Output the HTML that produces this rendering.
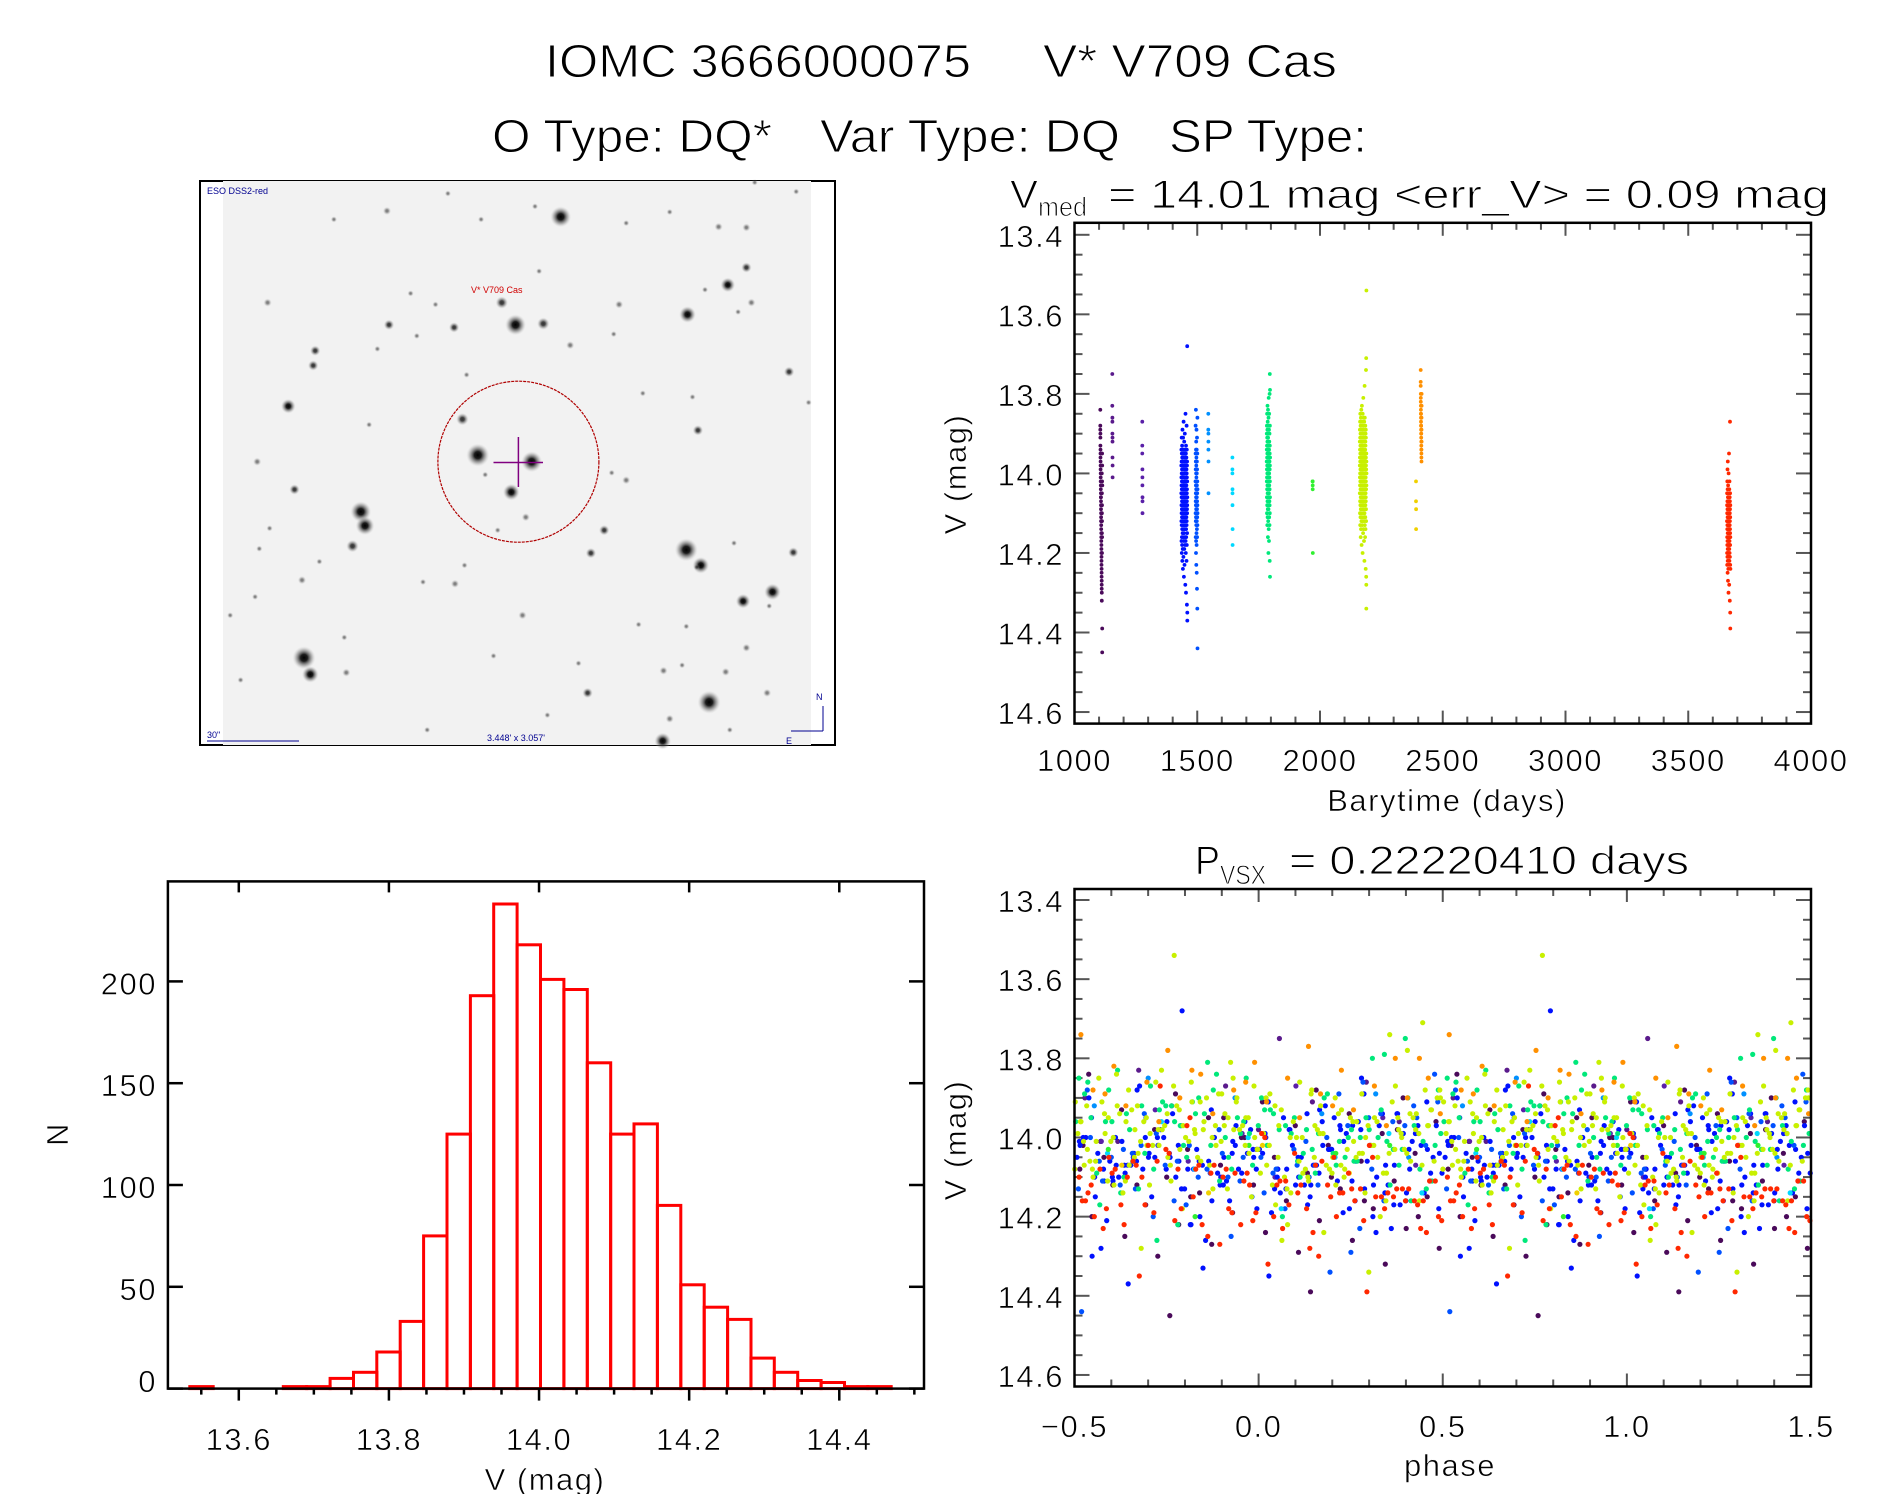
<!DOCTYPE html>
<html><head><meta charset="utf-8"><title>IOMC 3666000075 V* V709 Cas</title>
<style>
html,body{margin:0;padding:0;background:#fff;}
svg{display:block;font-family:"Liberation Sans",sans-serif;}
.thin{stroke:#fff;stroke-width:1;}
</style></head>
<body>
<svg id="fig" width="1889" height="1494" viewBox="0 0 1889 1494" xmlns="http://www.w3.org/2000/svg">
<defs>
<radialGradient id="starg"><stop offset="0" stop-color="#000" stop-opacity="1"/><stop offset="0.3" stop-color="#111" stop-opacity="0.95"/><stop offset="0.7" stop-color="#666" stop-opacity="0.4"/><stop offset="1" stop-color="#ccc" stop-opacity="0"/></radialGradient>
</defs>
<g font-size="46" fill="#000" class="thin">
<text x="545" y="77" textLength="426" lengthAdjust="spacingAndGlyphs">IOMC 3666000075</text>
<text x="1043" y="77" textLength="294" lengthAdjust="spacingAndGlyphs">V* V709 Cas</text>
<text x="492" y="152" textLength="280" lengthAdjust="spacingAndGlyphs">O Type: DQ*</text>
<text x="820" y="152" textLength="300" lengthAdjust="spacingAndGlyphs">Var Type: DQ</text>
<text x="1169" y="152" textLength="198" lengthAdjust="spacingAndGlyphs">SP Type:</text>
</g>
<g font-size="40" class="thin">
<text x="1010" y="208" textLength="28" lengthAdjust="spacingAndGlyphs">V</text>
<text x="1038" y="216" font-size="27" textLength="49" lengthAdjust="spacingAndGlyphs">med</text>
<text x="1108" y="208" textLength="721" lengthAdjust="spacingAndGlyphs">= 14.01 mag &lt;err_V&gt; = 0.09 mag</text>
</g>
<g font-size="40" class="thin">
<text x="1195" y="874" textLength="25" lengthAdjust="spacingAndGlyphs">P</text>
<text x="1220" y="884" font-size="27" textLength="46" lengthAdjust="spacingAndGlyphs">VSX</text>
<text x="1289" y="874" textLength="400" lengthAdjust="spacingAndGlyphs">= 0.22220410 days</text>
</g>
<g id="sky"></g>
<g id="lc"></g>
<g id="ph"></g>
<g id="hist"></g>
</svg>
<script>
// ---------- DATA ----------
const PERIOD = 0.22220410;
const seasonStart = [1105,1154,1276,1435,1493,1545,1643,1783,1970,2162,2391,2410,3658];
const seasonStep = [0.1373,0.1373,0.1373,0.1373,0.1373,0.1373,0.1373,0.1373,0.1373,0.1373,0.1373,0.1373,0.1373];
// magnitudes as hundredths above 13.50
const magS1 = "34 38 39 40 41 43 44 45 46 47 48 49 50 51 52 53 54 55 56 56 57 58 59 60 61 62 62 63 64 65 66 67 68 69 70 71 72 73 74 75 76 77 78 79 80 82 50 55 60 65 70 58 62 66 45 52 89 95 48 53";
const magS2 = "25 33 36 37 40 41 42 46 48 51";
const magS3 = "37 43 45 49 51 53 56 57 60";
const magS4 = "55 48 62 51 44 58 67 53 60 47 56 41 63 50 70 54 45 59 52 66 49 57 61 43 68 55 50 64 46 58 53 72 47 60 56 39 62 51 65 54 44 58 50 69 57 61 48 55 74 52 60 46 63 53 41 57 66 50 59 55 48 62 54 71 45 58 52 64 37 56 61 50 57 44 67 53 60 49 76 55 52 65 47 58 54 42 63 51 69 57 46 59 55 62 50 73 48 56 61 53 64 45 58 52 66 40 57 60 49 54 51 68 56 47 62 55 44 59 78 53 58 49 63 54 35 60 52 67 46 57 55 61 48 70 53 58 45 62 51 80 43 56 64 50 59 47 66 54 60 52 57 46 61 53 72 49 58 38 63 55 50 62 55 44 68 57 51 83 59 48 54 60 47 65 52 18 58 85 87 56";
const magS5 = "52 45 60 38 57 66 49 55 62 47 58 34 53 70 44 61 56 50 67 42 59 54 73 48 63 51 57 46 65 55 39 60 52 68 44 58 75 50 62 56 47 64 53 79 59 41 57 49 66 55 61 84 52 45 58 63 36 54 94 60";
const magS6 = "35 39 40 42 44 47 55";
const magS7 = "46 49 50 54 55 58 64 68";
const magS8 = "47 40 52 44 56 38 49 60 43 51 35 46 54 41 58 48 63 45 50 39 53 42 57 47 33 55 44 61 49 37 50 45 59 40 52 66 43 48 56 34 46 54 41 62 49 38 57 44 51 70 42 48 55 36 59 46 53 40 64 50 31 52 45 58 43 49 67 39 55 47 44 56 50 61 35 48 42 53 57 46 51 40 63 47 54 30 58 45 49 72 25 43 60 48 52 38 56 76 29 46";
const magS9 = "52 52 53 54 70";
const magS10 = "48 42 55 39 51 46 60 44 53 37 50 57 41 47 63 45 52 35 58 49 43 54 40 61 46 50 38 56 48 66 52 44 59 36 49 55 42 64 47 51 39 57 45 53 34 60 48 43 50 62 46 41 56 49 68 44 52 38 55 47 58 50 33 54 45 61 40 48 57 43 51 47 63 42 55 37 49 59 44 53 40 56 46 52 70 48 35 57 50 45 62 43 54 39 49 58 47 41 65 51 44 55 38 60 46 52 31 56 48 42 53 49 64 45 57 40 50 36 59 47 41 58 51 44 67 48 54 39 46 61 55 37 50 62 43 56 47 72 52 45 48 60 42 53 28 57 46 51 63 40 36 52 59 45 49 55 41 66 47 54 50 44 57 38 61 48 53 42 58 46 43 64 49 55 40 51 74 47 56 39 57 46 52 41 59 48 24 54 45 62 49 21 76 78 84 45 53 47 04 50";
const magS11 = "52 57 59 64";
const magS12 = "24 27 28 30 31 32 33 34 35 35 36 37 38 38 39 40 40 41 42 43 44 44 45 46 47 36 39 42 33 30";
const magS13 = "62 55 70 58 66 73 60 52 68 64 57 71 63 49 67 59 75 61 54 69 65 72 58 62 47 66 70 56 63 77 60 68 53 65 71 59 64 57 74 61 67 55 69 62 80 58 66 50 72 63 59 70 64 56 68 61 73 65 45 67 62 57 71 60 66 78 54 63 69 58 64 72 61 67 52 65 59 70 56 68 63 82 60 66 57 71 62 37 64 59 68 55 65 73 61 85 89 58 66 74";
const seasonMags = [magS1,magS2,magS3,magS4,magS5,magS6,magS7,magS8,magS9,magS10,magS11,magS12,magS13];
const seasonColors = ["#4a0a5a","#5a1a8c","#5a20a8","#0010ff","#0050ff","#0090ff","#00d8ff","#00e87a","#30f030","#c8f000","#f0d000","#ff9000","#ff2800"];

const histCounts = [1,0,0,0,1,1,5,8,18,33,75,125,193,238,218,201,196,160,125,130,90,51,40,34,15,8,4,3,1,1];
const histStart = 13.5347;
const histBin = 0.03115;
const lcXTicks = [1000,1500,2000,2500,3000,3500,4000];
const magTicks = [13.4,13.6,13.8,14.0,14.2,14.4,14.6];
const phaseTicks = [-0.5,0.0,0.5,1.0,1.5];
const histXTicks = [13.6,13.8,14.0,14.2,14.4];
const histYTicks = [0,50,100,150,200];

// ---------- HELPERS ----------
const NS = "http://www.w3.org/2000/svg";
function mk(parent, tag, attrs){ const e=document.createElementNS(NS,tag); for(const k in attrs) e.setAttribute(k,attrs[k]); parent.appendChild(e); return e; }
const mags = seasonMags.map(s => s.trim().split(/\s+/).map(v => 13.5 + parseInt(v,10)/100));

// ---------- AXES ----------
const L = 1074.5, R = 1811;
const xT = t => L + (t-1000)/3000*(R-L);
const yT = v => 234.8 + (v-13.4)*397.7;
const xP = p => L + (p+0.5)/2*(R-L);
const yP = v => 900 + (v-13.4)*395.8;
const xH = v => 238.8 + (v-13.6)*750.6;
const yH = n => 1388.6 - n*2.036;

function frame(g, x0,y0,x1,y1, name){
  const r = mk(g,'rect',{x:x0,y:y0,width:x1-x0,height:y1-y0,fill:'none',stroke:'#000','stroke-width':2.5});
  
  
}
function tickLine(g,x1,y1,x2,y2,col,w){ mk(g,'line',{x1:x1,y1:y1,x2:x2,y2:y2,stroke:col,'stroke-width':w}); }
function label(g,x,y,txt,anchor,name,size){
  const t = mk(g,'text',{x:x,y:y,'text-anchor':anchor,'font-size':size||31,'letter-spacing':1.5,stroke:'#fff','stroke-width':0.6});
  t.textContent = txt;
  
  
  return t;
}
function magAxis(g, yf, top, bot){
  const tg = mk(g,'g',{});
  
  
  for(let i=0;i<=24;i++){ const v=13.4+i*0.05; const y=yf(v); if(y<top||y>bot) continue;
    const major = i%4===0; const len = major?15:8;
    tickLine(tg,L,y,L+len,y,'#555',2); tickLine(tg,R,y,R-len,y,'#555',2); }
  magTicks.forEach(v=>{ label(g,1064,yf(v)+12,v.toFixed(1),'end','y-tick-label'); });
}

// ---------- LIGHT CURVE ----------
(function(){
  const g = document.getElementById('lc');
  const top=222.8, bot=723.6;
  const tg = mk(g,'g',{});
  
  
  for(let t=1000;t<=4000;t+=100){ const x=xT(t); const len=(t%500===0)?13:7;
    tickLine(tg,x,bot,x,bot-len,'#555',2); tickLine(tg,x,top,x,top+len,'#555',2); }
  magAxis(g,yT,top,bot);
  lcXTicks.forEach(t=>label(g,xT(t),771,String(t),'middle','x-tick-label'));
  label(g,1447,811,'Barytime (days)','middle','x-axis-title');
  const yl = label(g,0,0,'V (mag)','middle','y-axis-title');
  yl.setAttribute('transform','translate(966,474) rotate(-90)');
  const pts = mk(g,'g',{});
  
  
  mags.forEach((arr,si)=>{
    arr.forEach((v,i)=>{
      const t = seasonStart[si] + i*seasonStep[si];
      const c = mk(pts,'circle',{cx:xT(t).toFixed(1),cy:yT(v).toFixed(1),r:1.9,fill:seasonColors[si]});
      
      
    });
  });
  frame(g,L,top,R,bot,'light-curve-frame');
})();

// ---------- PHASE PLOT ----------
(function(){
  const g = document.getElementById('ph');
  const top=889, bot=1386.5;
  const tg = mk(g,'g',{});
  
  
  for(let i=0;i<=20;i++){ const p=-0.5+i*0.1; const x=xP(p); const len=(i%5===0)?13:7;
    tickLine(tg,x,bot,x,bot-len,'#555',2); tickLine(tg,x,top,x,top+len,'#555',2); }
  magAxis(g,yP,top,bot);
  phaseTicks.forEach(p=>label(g,xP(p),1437,(p<0?'\u2212':'')+Math.abs(p).toFixed(1),'middle','x-tick-label'));
  label(g,1450,1476,'phase','middle','x-axis-title');
  const yl = label(g,0,0,'V (mag)','middle','y-axis-title');
  yl.setAttribute('transform','translate(966,1140) rotate(-90)');
  const pts = mk(g,'g',{});
  
  
  mags.forEach((arr,si)=>{
    arr.forEach((v,i)=>{
      const t = seasonStart[si] + i*seasonStep[si];
      let ph = ((t-1000)/PERIOD) % 1; if(ph<0) ph+=1;
      const copies = ph>=0.5 ? [ph, ph-1] : [ph, ph+1];
      copies.forEach(p=>{
        const c = mk(pts,'circle',{cx:xP(p).toFixed(1),cy:yP(v).toFixed(1),r:2.6,fill:seasonColors[si]});
        
        
      });
    });
  });
  frame(g,L,top,R,bot,'phase-frame');
})();

// ---------- HISTOGRAM ----------
(function(){
  const g = document.getElementById('hist');
  const x0=167.9, x1=924, top=881.4, bot=1388.6;
  const bars = mk(g,'g',{});
  
  
  histCounts.forEach((n,i)=>{
    const a = xH(histStart+i*histBin), b = xH(histStart+(i+1)*histBin);
    const r = mk(bars,'rect',{x:a.toFixed(1),y:yH(n).toFixed(1),width:(b-a).toFixed(1),height:(bot-yH(n)).toFixed(1),fill:'none',stroke:'#ff0000','stroke-width':3});
    
    
  });
  const tg = mk(g,'g',{});
  
  
  for(let i=0;i<=19;i++){ const v=13.55+i*0.05; const x=xH(v); if(x<x0||x>x1) continue;
    const major = Math.abs((v*10)%2) < 0.01 || Math.abs((v*10)%2-2)<0.01;
    tickLine(tg,x,bot,x,bot+(major?12:6),'#000',2.5);
    if(major) tickLine(tg,x,top,x,top+11,'#000',2.5); }
  histYTicks.forEach(n=>{ const y=yH(n);
    tickLine(tg,x0,y,x0+15,y,'#000',2.5); tickLine(tg,x1,y,x1-15,y,'#000',2.5);
    label(g,157,Math.min(y+13,1392),String(n),'end','y-tick-label'); });
  histXTicks.forEach(v=>label(g,xH(v),1450,v.toFixed(1),'middle','x-tick-label'));
  label(g,545,1490,'V (mag)','middle','x-axis-title');
  const yl = label(g,0,0,'N','middle','y-axis-title');
  yl.setAttribute('transform','translate(68,1134) rotate(-90)');
  frame(g,x0,top,x1,bot,'histogram-frame');
})();

// ---------- FINDER IMAGE ----------
(function(){
  const g = document.getElementById('sky');
  const fr = mk(g,'rect',{x:200,y:181,width:635,height:564,fill:'#fff',stroke:'#000','stroke-width':2});
  
  
  const bg = mk(g,'rect',{x:223,y:181,width:588,height:564,fill:'#f2f2f2'});
  
  
  const zx = x => x/2.412+195, zy = y => y/2.703+175;
  const stars = [
   [882,113,10],[773,405,10],[682,757,11],[812,775,10],[763,857,8],[400,910,10],[410,948,9],[1185,1013,11],[1220,1055,8],[263,1305,11],[278,1350,8],[1240,1425,11],[1188,377,8],[1285,297,7],[1393,1127,8],[1322,1152,7],[225,625,7],[1128,1530,8],
   [840,402,6],[740,345,6],[645,660,6],[468,405,5],[625,412,5],[290,475,5],[285,515,5],[1330,250,5],[1433,532,5],[1213,690,5],[240,850,5],[380,1003,6],[987,960,5],[955,1022,5],[1443,1020,5],[947,1400,5],[1145,1470,4],[1330,1278,4],[1280,1343,4],[1130,1340,4],[365,1345,4],[258,1095,4],[1023,350,4],[1342,345,4],[1263,140,4],[1330,142,4],[463,97,4],[905,460,4],[1040,825,4],[798,925,4],[627,1105,4],[790,1190,4],[1380,1400,4],[150,775,4],[175,345,4],[335,120,3],[690,120,3],[820,85,3],[1040,130,3],[1145,100,3],[520,320,3],[580,350,3],[535,435,3],[440,470,3],[655,540,3],[830,260,3],[1010,430,3],[1230,310,3],[1310,370,3],[420,675,3],[1200,600,3],[1080,590,3],[1480,615,3],[700,810,3],[1005,805,3],[180,955,3],[155,1010,3],[300,1045,3],[550,1100,3],[730,960,3],[650,1055,3],[1300,995,3],[145,1140,3],[85,1190,3],[360,1250,3],[720,1300,3],[925,1320,3],[1070,1215,3],[1185,1220,3],[1175,1325,3],[1385,1165,3],[850,1460,3],[1290,1500,3],[560,1500,3],[110,1365,3],[1210,1060,3],[610,50,3],[1350,20,3],[1450,45,3]
  ];
  stars.forEach(s=>{
    const c = mk(g,'circle',{cx:zx(s[0]).toFixed(1),cy:zy(s[1]).toFixed(1),r:(s[2]*1.05).toFixed(1),fill:'url(#starg)',opacity:s[2]>=7?1:(s[2]>=5?0.8:0.5)});
    
    
  });
  const circ = mk(g,'circle',{cx:518.4,cy:461.7,r:80.5,fill:'none',stroke:'#b00000','stroke-width':1.2,'stroke-dasharray':'3 1'});
  
  
  const cr = mk(g,'g',{stroke:'#800080','stroke-width':1.5});
  
  
  tickLine(cr,518.4,437,518.4,487,'#800080',1.5); tickLine(cr,493.5,462.5,543,462.5,'#800080',1.5);
  const small = (x,y,txt,col,name,anchor)=>{ const t=mk(g,'text',{x:x,y:y,'font-size':9,fill:col,'text-anchor':anchor||'start'}); t.textContent=txt;   };
  small(207,194,'ESO DSS2-red','#000090','survey-label');
  small(471,293,'V* V709 Cas','#d00000','target-label');
  small(207,738,'30"','#000090','scale-label');
  small(516,741,'3.448\' x 3.057\'','#000090','fov-label','middle');
  small(816,700,'N','#000090','compass-n');
  small(786,744,'E','#000090','compass-e');
  tickLine(g,207,741,299,741,'#000090',1);
  tickLine(g,823,706,823,731,'#000090',1); tickLine(g,823,731,791,731,'#000090',1);
})();
</script>
</body></html>
